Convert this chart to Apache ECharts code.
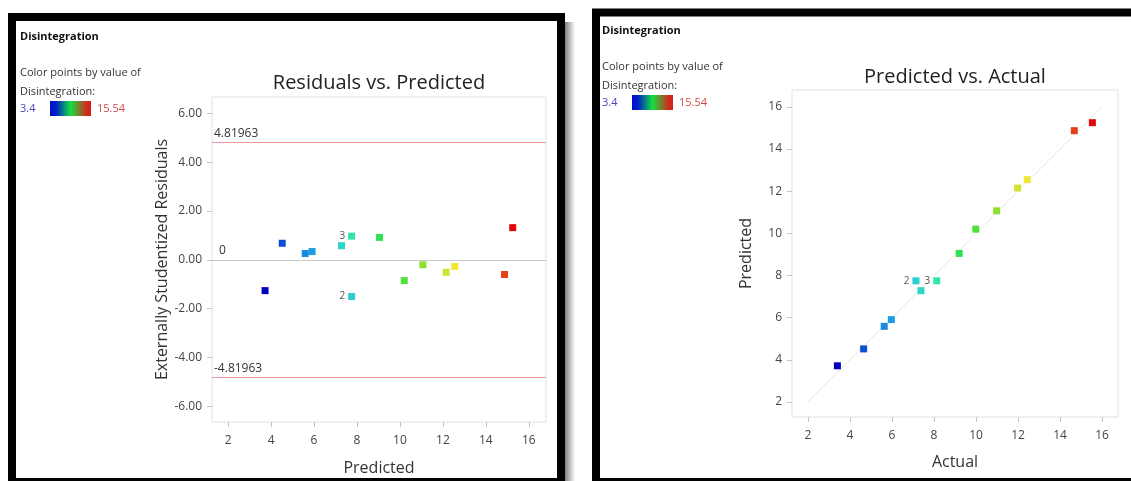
<!DOCTYPE html>
<html>
<head>
<meta charset="utf-8">
<script src="https://cdn.jsdelivr.net/npm/echarts@6/dist/echarts.min.js"></script>
<style>
  html, body { margin: 0; padding: 0; background: #fff; }
  #chart { width: 1131px; height: 481px; }
</style>
</head>
<body>
<div id="chart"></div>
<script>
// Disintegration: observed (actual) values, model predictions and externally studentized residuals
const actual    = [3.4, 4.65, 5.63, 5.97, 7.14, 7.38, 8.13, 9.2, 9.99, 10.98, 11.98, 12.44, 14.68, 15.54];
const predicted = [3.72, 4.52, 5.59, 5.91, 7.75, 7.28, 7.75, 9.05, 10.2, 11.07, 12.15, 12.55, 14.87, 15.25];
const residuals = [-1.26, 0.68, 0.26, 0.34, -1.5, 0.58, 0.97, 0.92, -0.85, -0.2, -0.51, -0.27, -0.6, 1.32];
// run numbers shown next to overlapping points
const pointTags = ['', '', '', '', '2', '', '3', '', '', '', '', '', '', ''];
// outlier limits and the zero line on the residual plot
const limitValues = [4.81963, 0, -4.81963];
// tick values
const residualTicks = [-6, -4, -2, 0, 2, 4, 6];
const valueTicks = [2, 4, 6, 8, 10, 12, 14, 16];
// 45 degree reference line for predicted vs. actual
const fitLine = [[2, 2], [16, 16]];
// colour scale range
const colorMin = 3.4;
const colorMax = 15.54;
const colorRamp = ['#0000c0', '#1060d8', '#26b8e8', '#30e6b4', '#2ee040', '#8ee030', '#f4e634', '#e86a22', '#e00808'];

const FONT = '"Open Sans", "Noto Sans", sans-serif';
const TXT = '#333';
const LIMIT_COLOR = '#ec98a0';
const ZERO_COLOR = '#c8c8c8';

const chart = echarts.init(document.getElementById('chart'), null, { renderer: 'canvas' });

function valueAxis(grid, min, max, ticks, name, gap, fmt) {
  return {
    type: 'value', gridIndex: grid, min: min, max: max,
    axisLine: { show: false, onZero: false },
    axisTick: { show: true, customValues: ticks, length: 5, lineStyle: { color: '#c4c4c4' } },
    axisLabel: { customValues: ticks, color: '#444', fontSize: 12, fontFamily: FONT, margin: 13,
                 formatter: fmt || (v => String(v)) },
    splitLine: { show: false },
    name: name, nameLocation: 'middle', nameGap: gap,
    nameTextStyle: { color: TXT, fontSize: 16, fontFamily: FONT }
  };
}

function yAxisDef(grid, min, max, ticks, name, gap, fmt) {
  const a = valueAxis(grid, min, max, ticks, name, gap, fmt);
  a.axisLabel.margin = 10;
  return a;
}

function tagLabel() {
  return {
    show: true, position: 'left', distance: 3, fontSize: 10, fontFamily: FONT, color: '#555',
    formatter: p => p.data[3]
  };
}

// one horizontal reference line per series, labelled with its value
function limitSeries(v) {
  const color = v === 0 ? ZERO_COLOR : LIMIT_COLOR;
  return {
    name: 'Limit ' + v, type: 'line', xAxisIndex: 0, yAxisIndex: 0, data: [],
    markLine: {
      silent: true, symbol: 'none', animation: false,
      lineStyle: { color: color, type: 'solid', width: 1, opacity: 1 },
      label: { show: true, position: 'insideStartTop', formatter: String(v),
               distance: [v === 0 ? 7 : 2, 3], color: TXT, fontSize: 12, fontFamily: FONT },
      data: [{ yAxis: v }]
    }
  };
}

function legendBlock(x0, y0) {
  // colour legend text and gradient swatch
  return [
    { type: 'text', style: { x: x0, y: y0, text: 'Disintegration', fill: '#111', font: 'bold 11px ' + FONT, verticalAlign: 'middle' } },
    { type: 'text', style: { x: x0, y: y0 + 36, text: 'Color points by value of', fill: TXT, font: '11px ' + FONT, verticalAlign: 'middle' } },
    { type: 'text', style: { x: x0, y: y0 + 55, text: 'Disintegration:', fill: TXT, font: '11px ' + FONT, verticalAlign: 'middle' } },
    { type: 'text', style: { x: x0, y: y0 + 72, text: String(colorMin), fill: '#4848b4', font: '11px ' + FONT, verticalAlign: 'middle' } },
    { type: 'rect', shape: { x: x0 + 30, y: y0 + 64, width: 41, height: 15 },
      style: { fill: { type: 'linear', x: 0, y: 0, x2: 1, y2: 0,
        colorStops: [ { offset: 0, color: '#0010c8' }, { offset: 0.15, color: '#0020c8' }, { offset: 0.5, color: '#12e040' }, { offset: 0.9, color: '#d42a1c' }, { offset: 1, color: '#d81c1c' } ] } } },
    { type: 'text', style: { x: x0 + 77, y: y0 + 72, text: String(colorMax), fill: '#d04848', font: '11px ' + FONT, verticalAlign: 'middle' } }
  ];
}

const option = {
  backgroundColor: '#fff',
  animation: false,
  grid: [
    { left: 212, top: 97, right: 585, bottom: 58, show: true, borderColor: '#e2e2e2', borderWidth: 1, backgroundColor: '#fff' },
    { left: 792, top: 90, right: 13, bottom: 64, show: true, borderColor: '#e2e2e2', borderWidth: 1, backgroundColor: '#fff' }
  ],
  xAxis: [
    valueAxis(0, 1.25, 16.8, valueTicks, 'Predicted', 38),
    valueAxis(1, 1.24, 16.76, valueTicks, 'Actual', 37)
  ],
  yAxis: [
    yAxisDef(0, -6.64, 6.67, residualTicks, 'Externally Studentized Residuals', 40, v => v.toFixed(2)),
    yAxisDef(1, 1.29, 16.8, valueTicks, 'Predicted', 38)
  ],
  visualMap: [{
    type: 'continuous', show: false, seriesIndex: [0, 1], dimension: 2,
    min: colorMin, max: colorMax, inRange: { color: colorRamp }
  }],
  series: [
    {
      name: 'Residuals', type: 'scatter', xAxisIndex: 0, yAxisIndex: 0,
      symbol: 'rect', symbolSize: 7, z: 5, itemStyle: { opacity: 1 },
      data: predicted.map((p, i) => [p, residuals[i], actual[i], pointTags[i]]),
      label: tagLabel()
    },
    {
      name: 'Predicted vs Actual', type: 'scatter', xAxisIndex: 1, yAxisIndex: 1,
      symbol: 'rect', symbolSize: 7, z: 5, itemStyle: { opacity: 1 },
      data: actual.map((a, i) => [a, predicted[i], a, pointTags[i]]),
      label: tagLabel()
    },
    {
      name: 'Fit', type: 'line', xAxisIndex: 1, yAxisIndex: 1, data: fitLine,
      symbol: 'none', silent: true, z: 1,
      lineStyle: { color: '#e6e6e6', width: 1 }
    }
  ].concat(limitValues.map(limitSeries)),
  graphic: [
    // panel frames
    { type: 'rect', z: 100, shape: { x: 565, y: 22, width: 10, height: 470 },
      style: { fill: { type: 'linear', x: 0, y: 0, x2: 1, y2: 0,
        colorStops: [ { offset: 0, color: 'rgba(0,0,0,0.5)' }, { offset: 1, color: 'rgba(0,0,0,0)' } ] } } },
    { type: 'rect', z: 100, shape: { x: 12, y: 17, width: 549, height: 465 },
      style: { fill: 'none', stroke: '#000', lineWidth: 8 } },
    { type: 'rect', z: 100, shape: { x: 596, y: 12.5, width: 600, height: 469.5 },
      style: { fill: 'none', stroke: '#000', lineWidth: 8 } },
    // titles
    { type: 'text', z: 100, style: { x: 379, y: 83, text: 'Residuals vs. Predicted', fill: '#222',
      font: '20px ' + FONT, align: 'center', verticalAlign: 'middle' } },
    { type: 'text', z: 100, style: { x: 955, y: 77, text: 'Predicted vs. Actual', fill: '#222',
      font: '20px ' + FONT, align: 'center', verticalAlign: 'middle' } }
  ].concat(legendBlock(20, 37), legendBlock(602, 31))
};

chart.setOption(option);
</script>
</body>
</html>
